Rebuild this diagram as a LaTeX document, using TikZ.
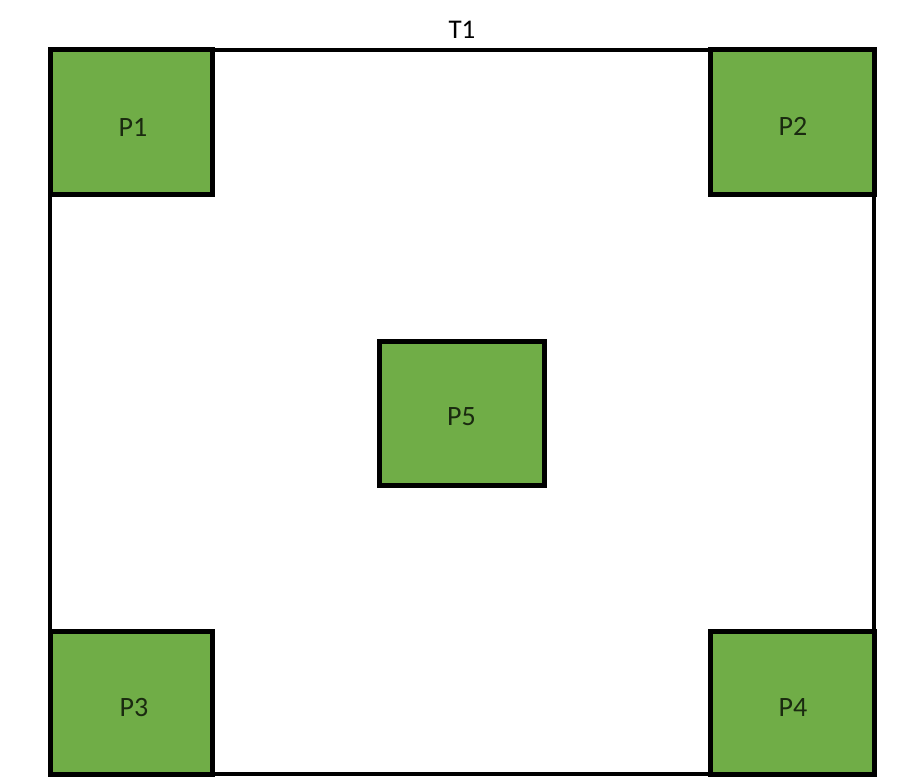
\documentclass[tikz,border=0pt]{standalone}
\usepackage{fontspec}
\setmainfont{Carlito}
\definecolor{pgreen}{HTML}{70AD47}
\definecolor{ptext}{HTML}{1A2A10}
\begin{document}
\begin{tikzpicture}[x=1pt,y=-1pt,
  pbox/.style={draw=black, line width=5pt, fill=pgreen, inner sep=0pt,
    minimum width=162pt, minimum height=144pt},
  plabel/.style={font=\fontsize{28}{30}\selectfont, text=ptext, inner sep=0pt},
  frame/.style={draw=black, line width=4.5pt, inner sep=0pt}]
\useasboundingbox (0,0) rectangle (904,776);
\fill[white] (0,0) rectangle (904,776);
\node[frame, minimum width=824pt, minimum height=724pt] (T) at (462,412) {};
\node[font=\fontsize{27}{30}\selectfont] (t1) at (462,30) {T1};
\node[pbox] (p1) at (131,122) {};
\node[pbox, minimum width=164pt] (p2) at (792,122) {};
\node[pbox, minimum width=165pt] (p5) at (461.5,413) {};
\node[pbox, minimum height=143pt] (p3) at (131,702.5) {};
\node[pbox, minimum width=164pt, minimum height=143pt] (p4) at (792,702.5) {};
\node[plabel] (l1) at ([xshift=2pt,yshift=-5pt]p1.center) {P1};
\node[plabel] (l2) at ([xshift=1pt,yshift=-4pt]p2.center) {P2};
\node[plabel] (l5) at ([xshift=0pt,yshift=-4pt]p5.center) {P5};
\node[plabel] (l3) at ([xshift=3pt,yshift=-5pt]p3.center) {P3};
\node[plabel] (l4) at ([xshift=1pt,yshift=-5pt]p4.center) {P4};
\end{tikzpicture}
\end{document}
